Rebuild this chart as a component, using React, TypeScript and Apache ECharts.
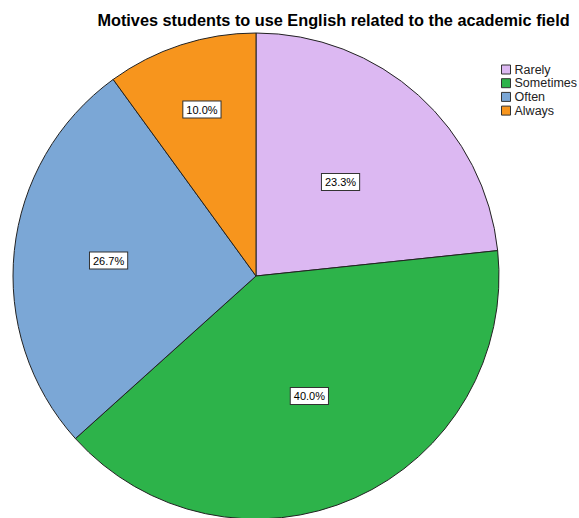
import React, { useEffect, useRef } from "react";
import * as echarts from "echarts";

const categories = ["Rarely", "Sometimes", "Often", "Always"];
const counts = [7, 12, 8, 3];
const colors = ["#dcb8f2", "#2db34a", "#7ba7d6", "#f7951d"];
const titleText = "Motives students to use English related to the academic field";
// radial placement of each percentage box, as a fraction of the pie radius
const labelRadiusFraction = [0.52, 0.54, 0.61, 0.72];

const CENTER: [number, number] = [256, 276];
const RADIUS = 243;

export default function App() {
  const ref = useRef<HTMLDivElement>(null);
  useEffect(() => {
    document.body.style.margin = "0";
    const chart = echarts.init(ref.current!, null, { renderer: "svg" });
    const total = counts.reduce((a, b) => a + b, 0);
    const midAngles: number[] = [];
    let acc = 0;
    counts.forEach((v) => {
      const midFrac = (acc + v / 2) / total;
      midAngles.push(Math.PI / 2 - midFrac * 2 * Math.PI);
      acc += v;
    });
    chart.setOption({
      animation: false,
      backgroundColor: "#ffffff",
      title: {
        text: titleText,
        left: 328.5,
        top: 7,
        textAlign: "center",
        textStyle: { fontFamily: "Liberation Sans, Arial", fontSize: 16.3, fontWeight: "bold", color: "#000" },
      },
      legend: {
        orient: "vertical",
        left: 501,
        top: 63,
        padding: 0,
        itemWidth: 9,
        itemHeight: 9,
        itemGap: 0.7,
        icon: "rect",
        data: categories,
        itemStyle: { borderColor: "#333", borderWidth: 1 },
        textStyle: { fontFamily: "Liberation Sans, Arial", fontSize: 12.5, lineHeight: 12, color: "#222", padding: [0, 0, 0, -1] },
      },
      series: [
        {
          type: "pie",
          center: CENTER,
          radius: RADIUS,
          startAngle: 90,
          clockwise: true,
          label: {
            position: "inside",
            formatter: (p: any) => ((p.value / total) * 100).toFixed(1) + "%",
            fontFamily: "Liberation Sans, Arial",
            fontSize: 11,
            color: "#000",
            backgroundColor: "#ffffff",
            borderColor: "#333",
            borderWidth: 1,
            padding: [3, 3, 2, 3],
          },
          labelLayout: (params: any) => {
            const i = params.dataIndex;
            const r = RADIUS * labelRadiusFraction[i];
            return {
              x: CENTER[0] + r * Math.cos(midAngles[i]),
              y: CENTER[1] - r * Math.sin(midAngles[i]),
              align: "center",
              verticalAlign: "middle",
            };
          },
          labelLine: { show: false },
          itemStyle: { borderColor: "#222", borderWidth: 1 },
          emphasis: { disabled: true },
          data: categories.map((c, i) => ({ name: c, value: counts[i], itemStyle: { color: colors[i] } })),
        },
      ],
    });
    return () => chart.dispose();
  }, []);
  return <div ref={ref} style={{ position: "absolute", left: 0, top: 0, width: 579, height: 518 }} />;
}
